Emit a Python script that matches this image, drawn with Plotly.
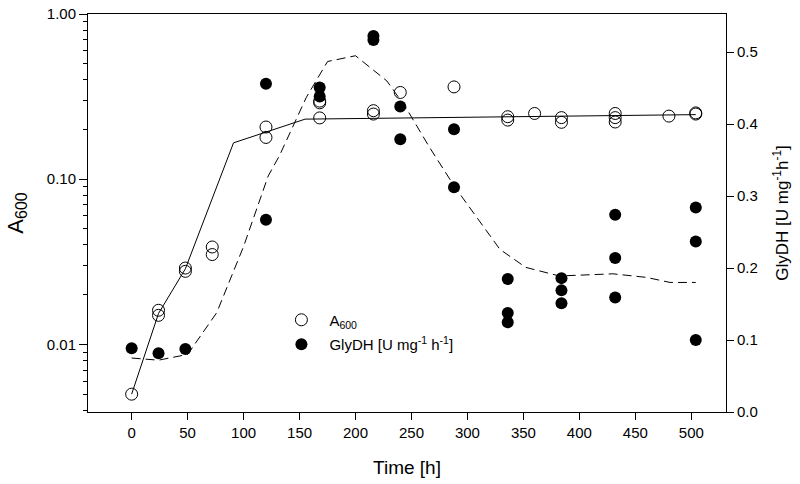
import plotly.graph_objects as go
import numpy as np

# A600 measurements (left, log axis)
a_time = [0, 24, 24, 48, 48, 72, 72, 120, 120, 168, 168, 168, 216, 216, 240, 288,
          336, 336, 360, 384, 384, 432, 432, 432, 480, 504, 504]
a_val = [0.005, 0.0161, 0.0150, 0.029, 0.0277, 0.0389, 0.035, 0.207, 0.179, 0.297, 0.29, 0.235,
         0.26, 0.248, 0.335, 0.362, 0.239, 0.228, 0.25, 0.236, 0.221, 0.25, 0.236, 0.222,
         0.241, 0.252, 0.248]

# GlyDH activity (right axis)
g_time = [0, 24, 48, 120, 120, 168, 168, 216, 216, 240, 240, 288, 288, 336, 336, 336,
          384, 384, 384, 432, 432, 432, 504, 504, 504]
g_val = [0.0885, 0.0815, 0.0875, 0.456, 0.267, 0.451, 0.4385, 0.5226, 0.517, 0.4246, 0.379,
         0.393, 0.3124, 0.1847, 0.1375, 0.1246, 0.186, 0.169, 0.151, 0.274, 0.214, 0.159,
         0.284, 0.237, 0.100]

# fitted curves
a_fit_t = [0, 24, 48, 91, 155, 504]
a_fit_v = [0.005, 0.0154, 0.0287, 0.166, 0.231, 0.246]

g_fit_t = [0, 24, 50, 76, 100, 122, 132, 156, 175, 200, 228, 245, 266, 289, 329, 352, 382, 430, 460, 481, 504]
g_fit_v = [0.075, 0.072, 0.08, 0.138, 0.23, 0.328, 0.356, 0.437, 0.487, 0.495, 0.46, 0.423, 0.368,
           0.312, 0.226, 0.201, 0.189, 0.192, 0.187, 0.18, 0.18]

x_ticks = list(range(0, 501, 50))
y_ticks = [0.01, 0.1, 1.0]
y_ticktext = ["0.01", "0.10", "1.00"]
y2_ticks = [0.0, 0.1, 0.2, 0.3, 0.4, 0.5]
y2_ticktext = ["0.0", "0.1", "0.2", "0.3", "0.4", "0.5"]
minor_vals = [m * 10.0 ** e for e in (-3, -2, -1) for m in range(2, 10)]

FONT = "Liberation Sans, Arial, Helvetica, sans-serif"

fig = go.Figure()
fig.add_trace(go.Scatter(x=a_fit_t, y=a_fit_v, mode="lines", line=dict(color="black", width=1),
                         showlegend=False, hoverinfo="skip"))
fig.add_trace(go.Scatter(x=g_fit_t, y=g_fit_v, mode="lines", yaxis="y2",
                         line=dict(color="black", width=1, dash="9px,5px"),
                         showlegend=False, hoverinfo="skip"))
fig.add_trace(go.Scatter(x=a_time, y=a_val, mode="markers", name="A<sub>600</sub>",
                         legendgroup="a",
                         marker=dict(symbol="circle-open", size=12, color="black",
                                     line=dict(width=1, color="black"))))
fig.add_trace(go.Scatter(x=g_time, y=g_val, mode="markers", yaxis="y2",
                         name="GlyDH [U mg<sup>-1</sup> h<sup>-1</sup>]", legendgroup="g",
                         marker=dict(symbol="circle", size=12, color="black")))

fig.update_layout(
    width=800, height=484,
    margin=dict(l=88, r=74, t=14, b=72, autoexpand=False),
    paper_bgcolor="white", plot_bgcolor="white",
    font=dict(family=FONT, color="black", size=15),
    xaxis=dict(range=[-39, 531], tickvals=x_ticks, ticks="outside", ticklen=7,
               tickcolor="black", showline=True, linecolor="black", linewidth=1,
               mirror=True, showgrid=False, zeroline=False, tickfont=dict(size=15),
               title=dict(text="Time [h]", font=dict(size=19), standoff=20)),
    yaxis=dict(type="log", range=[np.log10(0.0039), 0], tickvals=y_ticks, ticktext=y_ticktext,
               ticks="outside", ticklen=8, tickcolor="black", showline=True, linecolor="black",
               linewidth=1, showgrid=False, zeroline=False, tickfont=dict(size=15),
               ticklabeloverflow="allow",
               minor=dict(tickvals=minor_vals, ticks="outside", ticklen=4, tickcolor="black",
                          showgrid=False),
               title=dict(text="A<sub><span style='font-size:16px'>600</span></sub>",
                          font=dict(size=22), standoff=17)),
    yaxis2=dict(overlaying="y", side="right", range=[0, 0.553], tickvals=y2_ticks,
                ticktext=y2_ticktext, ticks="outside", ticklen=7, tickcolor="black",
                showline=True, linecolor="black", linewidth=1, showgrid=False, zeroline=False,
                tickfont=dict(size=15),
                title=dict(text="GlyDH [U mg<sup>-1</sup>h<sup>-1</sup>]", font=dict(size=17),
                           standoff=19)),
    legend=dict(x=0.2906, y=0.2725, xanchor="left", yanchor="top", bgcolor="rgba(0,0,0,0)",
                font=dict(size=15), traceorder="grouped", tracegroupgap=2, itemwidth=46),
    showlegend=True,
)

fig.write_html("out.html", config={"displayModeBar": False},
               post_script="document.body.style.margin='0px';")
